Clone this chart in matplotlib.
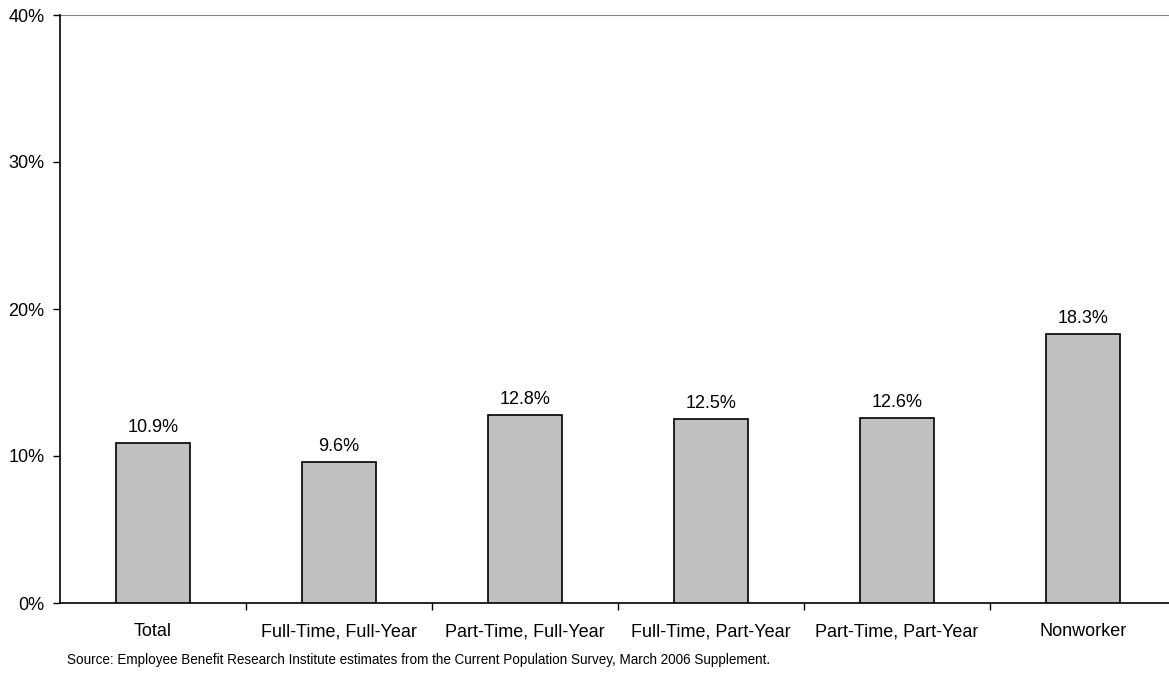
import matplotlib.pyplot as plt
from matplotlib.ticker import FixedLocator, NullFormatter

plt.rcParams['font.family'] = ['Liberation Sans', 'DejaVu Sans']

# data
categories = ['Total', 'Full-Time, Full-Year', 'Part-Time, Full-Year',
              'Full-Time, Part-Year', 'Part-Time, Part-Year', 'Nonworker']
values = [10.9, 9.6, 12.8, 12.5, 12.6, 18.3]
yticks = [0, 10, 20, 30, 40]
source = ('Source: Employee Benefit Research Institute estimates from the '
          'Current Population Survey, March 2006 Supplement.')

fig = plt.figure(figsize=(11.69, 6.77), dpi=100)
ax = fig.add_axes([60 / 1169, 1 - 603 / 677, 1116 / 1169, 588 / 677])

x = list(range(len(categories)))
ax.bar(x, values, width=0.40, color='#c0c0c0', edgecolor='black', linewidth=1.2, zorder=3)

for xi, v in zip(x, values):
    ax.annotate(f'{v:.1f}%', (xi, v), xytext=(0, 5), textcoords='offset points',
                ha='center', va='bottom', fontsize=13)

ax.set_xlim(-0.5, len(categories) - 0.5)
ax.set_ylim(0, 40)
ax.set_yticks(yticks)
ax.set_yticklabels([f'{t}%' for t in yticks], fontsize=13)

ax.set_xticks(x)
ax.set_xticklabels(categories, fontsize=13)
ax.tick_params(axis='x', which='major', length=0, pad=14.5)
ax.xaxis.set_minor_locator(FixedLocator([i + 0.5 for i in x[:-1]]))
ax.xaxis.set_minor_formatter(NullFormatter())
ax.tick_params(axis='x', which='minor', length=5, width=1, direction='out')
ax.tick_params(axis='y', length=5, width=1, direction='out', pad=6)

ax.axhline(40, color='#808080', linewidth=1.5, zorder=2)
for s in ['top', 'right']:
    ax.spines[s].set_visible(False)
for s in ['left', 'bottom']:
    ax.spines[s].set_linewidth(1.2)

fig.text(67 / 1169, 1 - 660 / 677, source, fontsize=9.75, va='center', ha='left')

fig.savefig('out.png', dpi=100)
